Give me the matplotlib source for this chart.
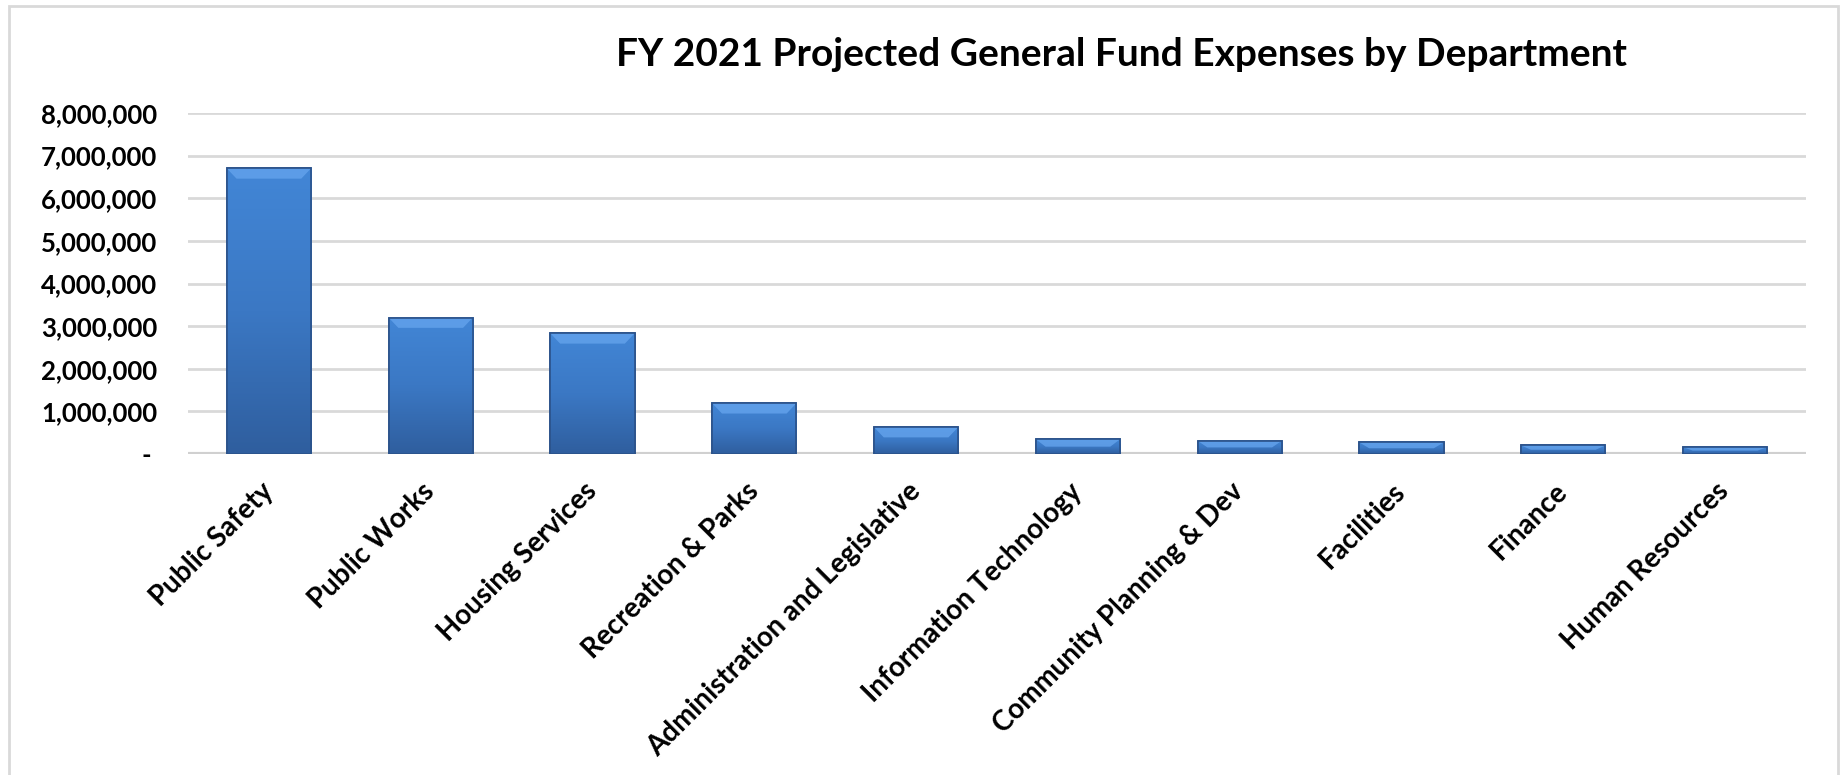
import numpy as np
import matplotlib.pyplot as plt
from matplotlib.patches import Rectangle, Polygon
from matplotlib.colors import LinearSegmentedColormap
from matplotlib.ticker import FuncFormatter, MultipleLocator

# Расходы общего фонда по департаментам, FY 2021
departments = ['Public Safety', 'Public Works', 'Housing Services', 'Recreation & Parks',
               'Administration and Legislative', 'Information Technology',
               'Community Planning & Dev', 'Facilities', 'Finance', 'Human Resources']
expenses = [6700000, 3200000, 2830000, 1190000, 630000, 345000, 310000, 270000, 200000, 160000]

plt.rcParams['font.family'] = ['Lato', 'DejaVu Sans']

fig = plt.figure(figsize=(18.45, 7.75), dpi=100)
ax = fig.add_axes([188 / 1845, 1 - 454 / 775, (1806 - 188) / 1845, (454 - 113) / 775])

x = np.arange(len(departments))
bar_w = 0.52
bars = ax.bar(x, expenses, width=bar_w, color='#3a73bd', edgecolor='#2b528a',
              linewidth=1.2, zorder=3)

# Градиент и светлая фаска сверху для каждого столбца
grad = np.linspace(0, 1, 256).reshape(-1, 1)
cmap = LinearSegmentedColormap.from_list('bar', ['#2f5e9e', '#3b78c4', '#4286d6'])
bevel = 240000
for rect in bars:
    x0, w, h = rect.get_x(), rect.get_width(), rect.get_height()
    im = ax.imshow(grad, cmap=cmap, extent=[x0, x0 + w, 0, h], aspect='auto',
                   origin='lower', zorder=3.1)
    im.set_clip_path(rect)
    b = min(bevel, h * 0.5)
    ax.add_patch(Polygon([[x0, h], [x0 + w, h], [x0 + w - 0.06, h - b], [x0 + 0.06, h - b]],
                         closed=True, facecolor='#64a3ec', edgecolor='none', alpha=0.8,
                         zorder=3.2))
    ax.add_patch(Rectangle((x0, 0), w, h, facecolor='none', edgecolor='#2b528a',
                           linewidth=1.2, zorder=3.3))

ax.set_xlim(-0.5, len(departments) - 0.5)
ax.set_ylim(0, 8000000)
ax.yaxis.set_major_locator(MultipleLocator(1000000))
ax.yaxis.set_major_formatter(FuncFormatter(lambda v, p: '- ' if v == 0 else f'{v:,.0f}'))
ax.grid(axis='y', color='#d9d9d9', linewidth=2, zorder=0)
ax.axhline(0, color='#d0d0d0', linewidth=3, zorder=2)
for s in ax.spines.values():
    s.set_visible(False)
ax.tick_params(axis='both', length=0)
ax.tick_params(axis='y', labelsize=18.5, pad=22)
for lbl in ax.get_yticklabels():
    lbl.set_fontweight('bold')

ax.set_xticks(x)
ax.set_xticklabels(departments, rotation=45, ha='right', va='center',
                   rotation_mode='anchor', fontsize=20, fontweight='bold')
ax.tick_params(axis='x', pad=24)

fig.text(1121 / 1845, 1 - 55 / 775, 'FY 2021 Projected General Fund Expenses by Department',
         ha='center', va='center', fontsize=28, fontweight='bold')

# Рамка области диаграммы
fig.add_artist(Rectangle((9 / 1845, -0.01), (1838 - 9) / 1845, 1 - 6 / 775 + 0.01,
                         transform=fig.transFigure, facecolor='none',
                         edgecolor='#d9d9d9', linewidth=2))

fig.savefig('out.png', dpi=100)
